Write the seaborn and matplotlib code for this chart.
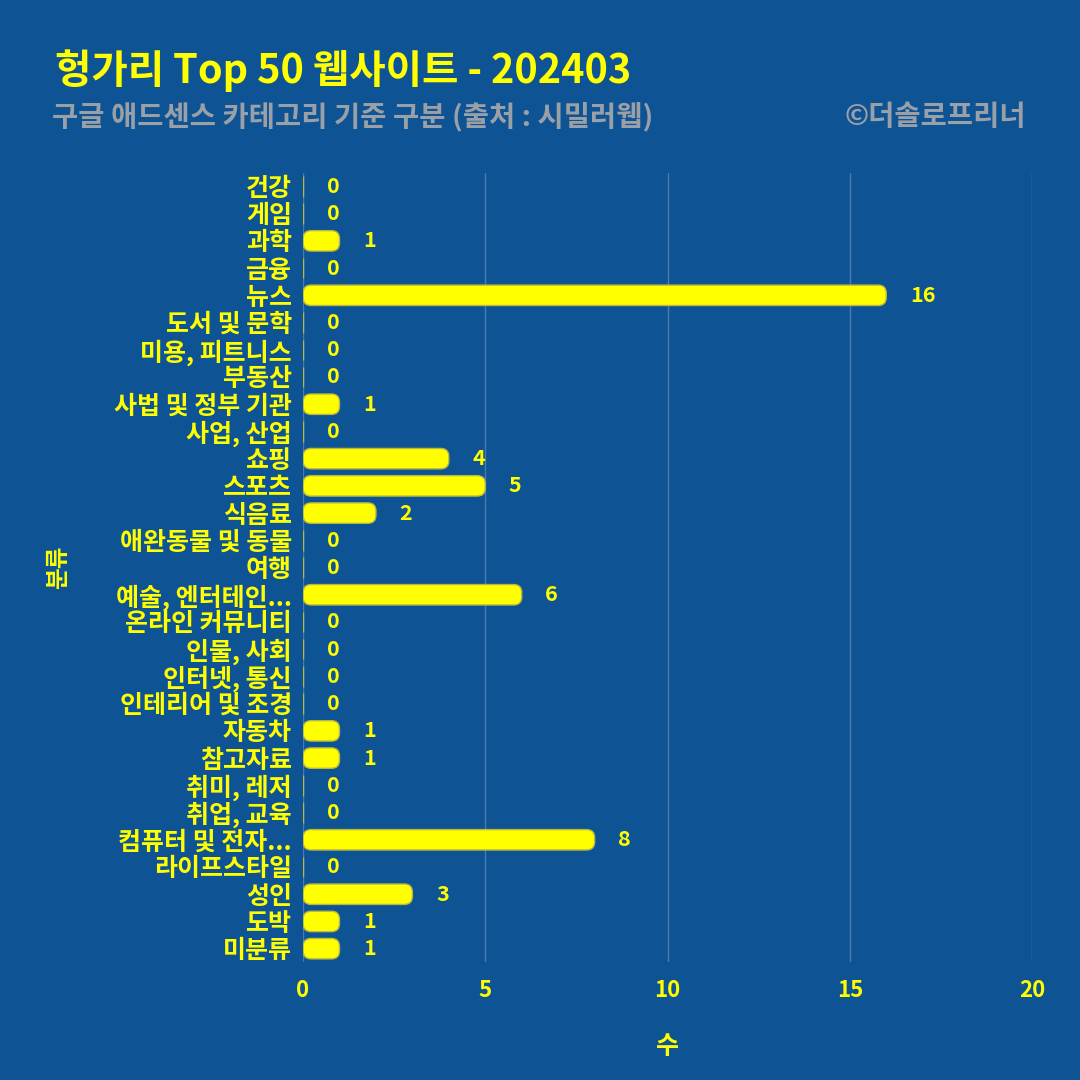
import matplotlib
matplotlib.use("Agg")
import matplotlib.pyplot as plt
import seaborn as sns
import pandas as pd
from matplotlib.patches import FancyBboxPatch, Rectangle

categories = ["건강", "게임", "과학", "금융", "뉴스", "도서 및 문학", "미용, 피트니스", "부동산",
              "사법 및 정부 기관", "사업, 산업", "쇼핑", "스포츠", "식음료", "애완동물 및 동물", "여행",
              "예술, 엔터테인...", "온라인 커뮤니티", "인물, 사회", "인터넷, 통신", "인테리어 및 조경",
              "자동차", "참고자료", "취미, 레저", "취업, 교육", "컴퓨터 및 전자...", "라이프스타일",
              "성인", "도박", "미분류"]
counts = [0, 0, 1, 0, 16, 0, 0, 0, 1, 0, 4, 5, 2, 0, 0, 6, 0, 0, 0, 0, 1, 1, 0, 0, 8, 0, 3, 1, 1]
xticks = [0, 5, 10, 15, 20]

title = "헝가리 Top 50 웹사이트 - 202403"
subtitle = "구글 애드센스 카테고리 기준 구분 (출처 : 시밀러웹)"
credit = "©더솔로프리너"

BG = "#0E5394"
YEL = "#FFFF00"
GRAY = "#9AA0A8"

sns.set_theme(style="white")
plt.rcParams['font.family'] = ['Noto Sans CJK KR', 'DejaVu Sans']

df = pd.DataFrame({"cat": categories, "n": counts})

fig = plt.figure(figsize=(10.8, 10.8), dpi=100, facecolor=BG)
ax = fig.add_axes([0.2806, 0.109, 0.675, 0.731])
ax.set_facecolor(BG)

sns.barplot(data=df, x="n", y="cat", orient="h", color=YEL, saturation=1,
            width=0.75, edgecolor="#B8B840", linewidth=1.0, ax=ax)

# round the bar ends
for p in list(ax.patches):
    if isinstance(p, Rectangle) and p.get_width() > 0:
        x0, y0 = p.get_x(), p.get_y()
        w, h = p.get_width(), p.get_height()
        fb = FancyBboxPatch((x0, y0), w, h,
                            boxstyle="round,pad=0,rounding_size=0.22",
                            mutation_aspect=1.34,
                            facecolor=YEL, edgecolor="#B8B840", linewidth=1.0, zorder=3)
        p.remove()
        ax.add_patch(fb)

for i, v in enumerate(counts):
    ax.annotate(str(v), xy=(v, i), xytext=(17, 0), textcoords="offset points",
                ha="left", va="center", color=YEL, fontsize=15.5, fontweight="bold")

ax.set_xlim(0, 20)
ax.set_ylim(len(categories) - 0.5, -0.5)
ax.set_xticks(xticks)
ax.set_xticklabels([str(t) for t in xticks])
ax.grid(axis="x", color="#4C7AB0", linewidth=1)
ax.grid(axis="y", visible=False)
ax.set_axisbelow(True)
for s in ax.spines.values():
    s.set_visible(False)
ax.tick_params(axis="x", colors=YEL, labelsize=16, length=0, pad=12)
ax.tick_params(axis="y", colors=YEL, labelsize=18, length=0, pad=8)
for lab in ax.get_xticklabels() + ax.get_yticklabels():
    lab.set_fontweight("bold")
    lab.set_color(YEL)

ax.set_xlabel("수", color=YEL, fontsize=18, fontweight="bold", labelpad=24)
ax.set_ylabel("분류", color=YEL, fontsize=17, fontweight="bold")
ax.yaxis.set_label_coords(-0.32, 0.5)

fig.text(0.051, 0.935, title, color=YEL, fontsize=28.5, fontweight="bold", ha="left", va="center",
         fontstyle="italic")
fig.text(0.048, 0.892, subtitle, color=GRAY, fontsize=20.5, fontweight="bold", ha="left", va="center",
         fontstyle="italic")
fig.text(0.950, 0.892, credit, color=GRAY, fontsize=20.5, fontweight="bold", ha="right", va="center",
         fontstyle="italic")

fig.savefig("out.png", dpi=100, facecolor=BG)
